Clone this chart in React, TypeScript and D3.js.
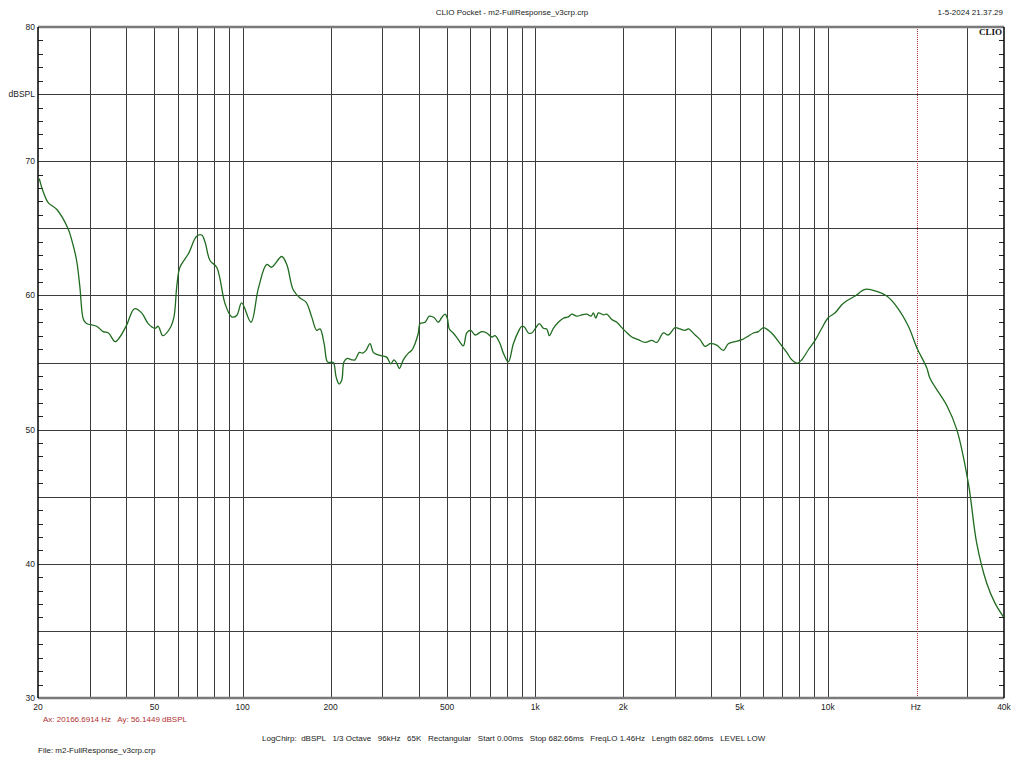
import React from "react";
import * as d3 from "d3";

const freqs = [
  20.2, 20.85, 21.7, 23.2, 25.3, 26.1, 27.1, 27.8, 28.6, 29.3, 31.7, 33.4, 34.8, 36.7, 38.1,
  40.2, 42.7, 45.2, 47.6, 50.2, 51.5, 53.4, 56.5, 58.3, 59.6, 61.1, 65.3, 69.7, 72.5, 74.4,
  77.4, 81.6, 87.1, 91.8, 95.5, 99.3, 106.9, 113.2, 120.9, 125.8, 136.1, 141.6, 149.1, 157.2,
  164.8, 172.3, 179.2, 184.0, 190.0, 194.9,
  199.1, 204.3, 208.7, 213.7, 218.3, 222.2, 228.1, 236.1, 242.3, 250.6, 257.4, 264.2, 272.6,
  279.8, 287.4, 298.9, 310.9, 320.9, 329.3, 336.4, 343.4, 354.3, 368.6, 378.6, 388.5, 398.8,
  404.1, 420.3, 434.8, 451.2, 466.7, 479.4, 492.0, 501.0, 508.9, 525.2, 546.3, 568.3, 583.7,
  602.4, 623.1, 656.8, 683.1, 710.6, 729.3, 758.5, 778.5, 809.7,
  842.3, 876.0, 899.8, 918.4, 947.8, 973.5, 999.0, 1033.4, 1066.5, 1095.4, 1118.1, 1153.9,
  1200.2, 1248.4, 1298.5, 1333.7, 1387.3, 1442.9, 1500.8, 1552.5, 1580.9, 1611.1, 1644.4,
  1710.4, 1756.8, 1827.3, 1900.6, 1976.5, 2039.8, 2138.4, 2252.2, 2374, 2503, 2603, 2742,
  2852, 3006, 3127, 3252,
  3338, 3520, 3660, 3806, 3958, 4172, 4396, 4572, 4820, 5082, 5284, 5568, 5792, 6024, 6266,
  6516, 6868, 7240, 7530, 7872, 8148, 8582, 9046, 9536, 10044, 10588, 11162, 11610,
  12393, 13407, 14703, 15904, 17207, 18852, 20143, 21788, 22360, 25500, 27590, 30220, 32290,
  34920, 37300, 39810,
];
const levels = [
  68.7, 67.7, 66.9, 66.4, 65.0, 64.1, 62.6, 60.65, 58.2, 57.9, 57.7, 57.3, 57.2, 56.55, 56.9,
  57.8, 59.0, 58.7, 57.9, 57.55, 57.7, 57.0, 57.55, 58.4, 60.65, 62.1, 63.1, 64.4, 64.5, 64.0,
  62.6, 62.1, 59.4, 58.4, 58.5, 59.45, 58.0, 60.5, 62.3, 62.1, 62.9, 62.3, 60.4, 59.8,
  59.5, 58.4, 57.4, 57.5, 56.4, 55.05,
  55.0, 55.0, 53.95, 53.4, 53.7, 55.05, 55.3, 55.2, 55.2, 55.75, 55.7, 55.9, 56.4,
  55.75, 55.6, 55.5, 55.4, 54.9, 55.2, 54.95, 54.55, 55.2, 55.7, 55.9, 56.4, 57.2,
  57.9, 58.0, 58.45, 58.35, 58.0, 58.35, 58.6, 58.3, 57.5, 57.2, 56.7, 56.25, 57.2,
  57.4, 57.05, 57.3, 57.2, 56.9, 57.0, 56.4, 55.7, 55.05,
  56.4, 57.3, 57.7, 57.65, 57.2, 57.2, 57.5, 57.9, 57.55, 57.5, 57.0, 57.55,
  58.0, 58.3, 58.4, 58.6, 58.45, 58.55, 58.6, 58.45, 58.7, 58.3, 58.7,
  58.55, 58.6, 58.2, 58.0, 57.6, 57.3, 56.9, 56.7, 56.5, 56.65, 56.5, 57.2,
  57.05, 57.6, 57.5, 57.4,
  57.5, 57.05, 56.7, 56.2, 56.4, 56.3, 55.9, 56.4, 56.55, 56.7, 56.9, 57.2, 57.3, 57.6, 57.4,
  57.05, 56.4, 55.75, 55.2, 54.95, 55.2, 55.95, 56.65, 57.55, 58.35, 58.7, 59.3, 59.6,
  59.95, 60.45, 60.3, 59.95, 59.15, 57.7, 56.1, 54.6, 53.8, 51.8, 50.0, 46.0, 41.5,
  38.55, 37.05, 36.05,
];

const gridFreqs = [
  30, 40, 50, 60, 70, 80, 90, 100, 200, 300, 400, 500, 600, 700, 800, 900,
  1000, 2000, 3000, 4000, 5000, 6000, 7000, 8000, 9000, 10000, 30000,
];
const xLabels = ["20", "50", "100", "200", "500", "1k", "2k", "5k", "10k", "Hz", "40k"];
const xLabelFreqs = [20, 50, 100, 200, 500, 1000, 2000, 5000, 10000, 20000, 40000];
const yLabels = ["30", "40", "50", "60", "70", "dBSPL", "80"];
const yLabelValues = [30, 40, 50, 60, 70, 75, 80];
const gridLevels = [35, 40, 45, 50, 55, 60, 65, 70, 75];

const cursorFreq = 20166.6914;
const titleText = "CLIO Pocket - m2-FullResponse_v3crp.crp";
const dateText = "1-5-2024 21.37.29";
const cursorText = "Ax: 20166.6914 Hz   Ay: 56.1449 dBSPL";
const infoText =
  "LogChirp:  dBSPL   1/3 Octave   96kHz   65K   Rectangular   Start 0.00ms   Stop 682.66ms   FreqLO 1.46Hz   Length 682.66ms   LEVEL LOW";
const fileText = "File: m2-FullResponse_v3crp.crp";

export default function App() {
  const left = 38, right = 1004, top = 27, bottom = 698;
  const x = d3.scaleLog().domain([20, 40000]).range([left, right]);
  const y = d3.scaleLinear().domain([30, 80]).range([bottom, top]);

  const pts = freqs.map((f, i) => [f, levels[i]] as [number, number]);
  const line = d3
    .line<[number, number]>()
    .x((d) => x(d[0]))
    .y((d) => y(d[1]))
    .curve(d3.curveCatmullRom.alpha(0.5));

  const minorTicks = d3.range(31, 80).filter((v) => v % 5 !== 0);
  const font = "'Liberation Sans', Arial, sans-serif";
  const cx = Math.round(x(cursorFreq)) + 0.5;

  return (
    <svg
      width={1024}
      height={768}
      style={{ position: "absolute", left: 0, top: 0, background: "#fff" }}
      fontFamily={font}
    >
      <rect x={0} y={0} width={1024} height={768} fill="#fff" />
      {/* horizontal grid */}
      {gridLevels.map((v) => (
        <line key={"h" + v} x1={left} x2={right} y1={Math.round(y(v)) + 0.5} y2={Math.round(y(v)) + 0.5} stroke="#3c3c3c" strokeWidth={1} />
      ))}
      {/* vertical grid */}
      {gridFreqs.map((f) => (
        <line key={"v" + f} x1={Math.round(x(f)) + 0.5} x2={Math.round(x(f)) + 0.5} y1={top} y2={bottom} stroke="#3c3c3c" strokeWidth={1} />
      ))}
      {/* minor ticks left & right */}
      {minorTicks.map((v) => (
        <React.Fragment key={"t" + v}>
          <line x1={left} x2={left + 5} y1={Math.round(y(v)) + 0.5} y2={Math.round(y(v)) + 0.5} stroke="#222" />
          <line x1={right - 5} x2={right} y1={Math.round(y(v)) + 0.5} y2={Math.round(y(v)) + 0.5} stroke="#222" />
        </React.Fragment>
      ))}
      {/* cursor */}
      <line x1={cx} x2={cx} y1={top} y2={bottom} stroke="#a83c3c" strokeWidth={1} strokeDasharray="1,1" />
      {/* frame */}
      <line x1={left} x2={right} y1={top} y2={top} stroke="#7a7a7a" strokeWidth={2.5} />
      <line x1={left} x2={right} y1={bottom} y2={bottom} stroke="#7a7a7a" strokeWidth={2.5} />
      <line x1={left} x2={left} y1={top} y2={bottom} stroke="#000" strokeWidth={1.5} />
      <line x1={right} x2={right} y1={top} y2={bottom} stroke="#000" strokeWidth={1.5} />

      {/* response */}
      <path d={line(pts) ?? ""} fill="none" stroke="#1f6b1f" strokeWidth={1.3} />

      {/* y labels */}
      {yLabels.map((t, i) => (
        <text key={"yl" + t} x={left - 3} y={y(yLabelValues[i])} dy="0.35em" textAnchor="end" fontSize={8.5} fill="#222">
          {t}
        </text>
      ))}
      {/* x labels */}
      {xLabels.map((t, i) => (
        <text key={"xl" + t} x={x(xLabelFreqs[i])} y={710} textAnchor="middle" fontSize={8.5} fill="#222">
          {t}
        </text>
      ))}

      <text x={512} y={15} textAnchor="middle" fontSize={8} fill="#222">{titleText}</text>
      <text x={1003} y={15} textAnchor="end" fontSize={8} fill="#222">{dateText}</text>
      <text x={1002} y={35} textAnchor="end" fontSize={9} fontWeight="bold" fontFamily="'Liberation Serif', serif" fill="#111">
        CLIO
      </text>
      <text x={43} y={722} fontSize={8} fill="#b03030" style={{ whiteSpace: "pre" }}>{cursorText}</text>
      <text x={262} y={741} fontSize={8} fill="#222" style={{ whiteSpace: "pre" }}>{infoText}</text>
      <text x={38} y={753} fontSize={8} fill="#222">{fileText}</text>
    </svg>
  );
}
